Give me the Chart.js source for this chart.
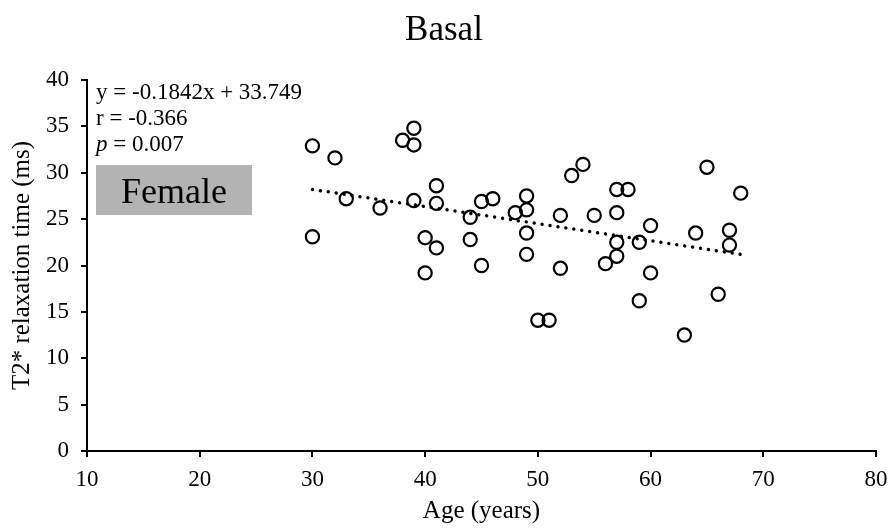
<!DOCTYPE html>
<html>
<head>
    <meta charset="utf-8">
    <title>Basal</title>
    <script src="https://cdn.jsdelivr.net/npm/chart.js"></script>
</head>
<body style="margin:0; background-color:white;">
<canvas id="myChart" width="888" height="529"></canvas>
<script>
    // values
    const ages = [30, 30, 32, 33, 36, 38, 39, 39, 39, 40, 40, 41, 41, 41, 44, 44, 45, 45, 46, 48,
                  49, 49, 49, 49, 50, 51, 52, 52, 53, 54, 55, 56, 57, 57, 57, 57, 58, 59, 59, 60,
                  60, 63, 64, 65, 66, 67, 67, 68];
    const t2 = [32.9, 23.1, 31.6, 27.2, 26.2, 33.5, 34.8, 33.0, 27.0, 23.0, 19.2, 28.6, 26.7, 21.9, 25.2, 22.8, 26.9, 20.0, 27.2, 25.7,
                27.5, 26.0, 23.5, 21.2, 14.1, 14.1, 25.4, 19.7, 29.7, 30.9, 25.4, 20.2, 28.2, 25.7, 22.5, 21.0, 28.2, 22.5, 16.2, 24.3,
                19.2, 12.5, 23.5, 30.6, 16.9, 23.8, 22.2, 27.8];
    const trendAges = [30, 68];
    const trendT2 = [28.2, 21.2];
    const xTicks = [10, 20, 30, 40, 50, 60, 70, 80];
    const yTicks = [0, 5, 10, 15, 20, 25, 30, 35, 40];
    const statLines = ['y = -0.1842x + 33.749', 'r = -0.366', '= 0.007'];
    const groupLabel = 'Female';

    const serif = '"Liberation Serif", "Times New Roman", serif';

    const notes = {
        id: 'notes',
        beforeDatasetsDraw(chart) {
            const {ctx, chartArea} = chart;
            const x0 = chartArea.left + 9;
            ctx.save();
            ctx.fillStyle = '#b3b3b3';
            ctx.fillRect(x0, chartArea.top + 85, 156, 50);
            ctx.fillStyle = '#000';
            ctx.font = '36px ' + serif;
            ctx.textAlign = 'center';
            ctx.textBaseline = 'alphabetic';
            ctx.fillText(groupLabel, x0 + 78, chartArea.top + 123);

            ctx.textAlign = 'left';
            ctx.font = '23px ' + serif;
            ctx.fillText(statLines[0], x0, chartArea.top + 19);
            ctx.fillText(statLines[1], x0, chartArea.top + 45);
            ctx.font = 'italic 23px ' + serif;
            ctx.fillText('p', x0, chartArea.top + 71);
            const w = ctx.measureText('p ').width;
            ctx.font = '23px ' + serif;
            ctx.fillText(statLines[2], x0 + w, chartArea.top + 71);
            ctx.restore();
        }
    };

    const ctx = document.getElementById('myChart').getContext('2d');
    window.myChart = new Chart(ctx, {
        type: 'scatter',
        data: {
            datasets: [{
                label: 'T2*',
                data: ages.map((a, i) => ({x: a, y: t2[i]})),
                pointRadius: 6.6,
                pointBorderWidth: 2.2,
                borderColor: '#000',
                backgroundColor: 'rgba(0,0,0,0)'
            }, {
                type: 'line',
                label: 'trend',
                data: trendAges.map((a, i) => ({x: a, y: trendT2[i]})),
                borderColor: '#000',
                borderWidth: 3.5,
                borderDash: [0.01, 8],
                borderCapStyle: 'round',
                pointRadius: 0,
                fill: false
            }]
        },
        options: {
            responsive: false,
            animation: false,
            layout: { padding: { left: 0, right: 0, top: 0, bottom: 0 } },
            plugins: {
                legend: { display: false },
                tooltip: { enabled: false },
                title: {
                    display: true,
                    text: 'Basal',
                    color: '#000',
                    font: { family: serif, size: 35, weight: 'normal' },
                    padding: { top: 10, bottom: 28 }
                }
            },
            scales: {
                x: {
                    type: 'linear',
                    min: 10, max: 80,
                    afterFit: (s) => { s.height = 78; s.paddingRight = 12; },
                    afterBuildTicks: (s) => { s.ticks = xTicks.map(v => ({value: v})); },
                    border: { color: '#000', width: 2 },
                    grid: { drawOnChartArea: false, color: '#000', lineWidth: 2, tickLength: 6 },
                    ticks: { color: '#000', padding: 9, font: { family: serif, size: 23 } },
                    title: { display: true, text: 'Age (years)', color: '#000',
                             font: { family: serif, size: 25 }, padding: { top: 0, bottom: 3 } }
                },
                y: {
                    min: 0, max: 40,
                    afterFit: (s) => { s.width = 87; },
                    afterBuildTicks: (s) => { s.ticks = yTicks.map(v => ({value: v})); },
                    border: { color: '#000', width: 2 },
                    grid: { drawOnChartArea: false, color: '#000', lineWidth: 2, tickLength: 6 },
                    ticks: { color: '#000', padding: 12, font: { family: serif, size: 23 } },
                    title: { display: true, text: 'T2* relaxation time (ms)', color: '#000',
                             font: { family: serif, size: 25 }, padding: { top: 7, bottom: 0 } }
                }
            }
        },
        plugins: [notes]
    });
</script>
</body>
</html>
